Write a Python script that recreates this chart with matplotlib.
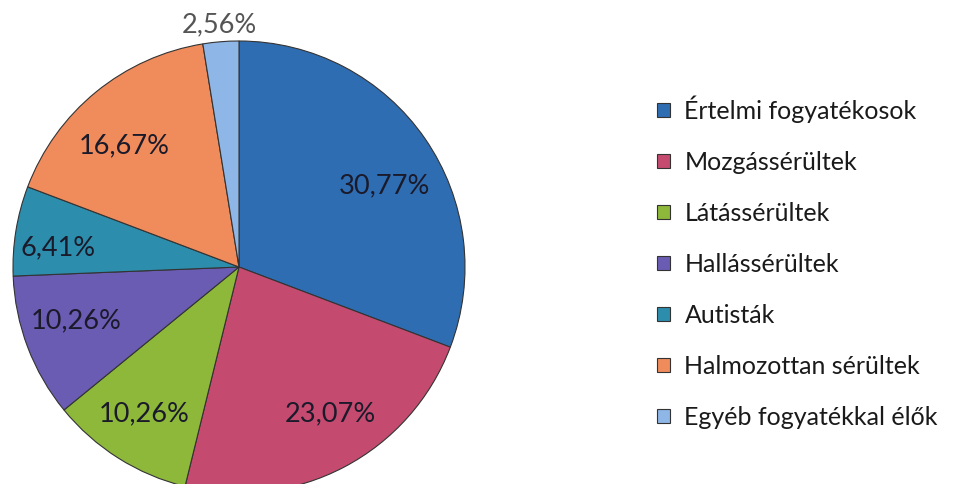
import matplotlib
matplotlib.use("Agg")
import matplotlib.pyplot as plt
import numpy as np

categories = ["Értelmi fogyatékosok", "Mozgássérültek", "Látássérültek",
              "Hallássérültek", "Autisták", "Halmozottan sérültek",
              "Egyéb fogyatékkal élők"]
values = [30.77, 23.07, 10.26, 10.26, 6.41, 16.67, 2.56]
value_labels = ["30,77%", "23,07%", "10,26%", "10,26%", "6,41%", "16,67%", "2,56%"]

colors = ["#2F6DB3", "#C44B6F", "#8DB83A", "#6B5CB3", "#2D8DAC", "#F08C5C", "#8EB6E6"]
# label positions (fractions of radius, relative to centre) -- layout only
label_pos = [(0.643, 0.362), (0.406, -0.647), (-0.42, -0.647), (-0.719, -0.232),
             (-0.80, 0.089), (-0.509, 0.54), (-0.085, 1.076)]
label_colors = ["#1a1a2a"] * 6 + ["#555555"]

plt.rcParams["font.family"] = ["Lato", "DejaVu Sans"]

W, H = 960, 485
fig = plt.figure(figsize=(W / 100, H / 100), dpi=100)
cx, cy, R = 239, 268, 226
ax = fig.add_axes([(cx - R) / W, (H - cy - R) / H, 2 * R / W, 2 * R / H])

wedges, _ = ax.pie(values, colors=colors, startangle=90, counterclock=False,
                   radius=1, wedgeprops=dict(edgecolor="#333333", linewidth=0.8))
ax.set_xlim(-1, 1)
ax.set_ylim(-1, 1)
ax.set_aspect("equal")
ax.axis("off")
for w in wedges:
    w.set_clip_on(False)

for lbl, (x, y), c in zip(value_labels, label_pos, label_colors):
    ax.text(x, y, lbl, ha="center", va="center", fontsize=19.5, color=c, clip_on=False)

leg = fig.legend(wedges, categories, loc="upper left",
                 bbox_to_anchor=(657 / W, 1 - 96 / H), frameon=False,
                 fontsize=18, handlelength=0.5, handleheight=0.5,
                 handletextpad=0.6, labelspacing=1.12, borderpad=0, borderaxespad=0)
for t in leg.get_texts():
    t.set_color("#1a1a1a")

fig.savefig("out.png", dpi=100)
